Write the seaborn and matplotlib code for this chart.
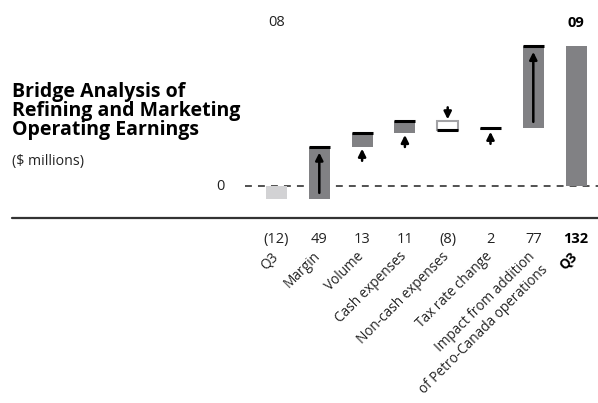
import matplotlib
matplotlib.use("Agg")
import matplotlib.pyplot as plt
from matplotlib.lines import Line2D
import numpy as np
import pandas as pd
import seaborn as sns

# ---- data -------------------------------------------------------------
steps = ["Q3 08", "Margin", "Volume", "Cash expenses", "Non-cash expenses",
         "Tax rate change", "Petro-Canada", "Q3 09"]
tick_labels = ["Q3", "Margin", "Volume", "Cash expenses", "Non-cash expenses",
               "Tax rate change", "Impact from addition\nof Petro-Canada operations", "Q3"]
changes = [-12, 49, 13, 11, -8, 2, 77]
total_09 = 132
year_labels = ["08", "09"]
title_lines = ["Bridge Analysis of", "Refining and Marketing", "Operating Earnings"]

# ---- waterfall geometry -------------------------------------------------
ends = list(np.cumsum(changes))
starts = [0] + ends[:-1]
bottoms = [min(s, e) for s, e in zip(starts, ends)] + [0]
heights = [abs(c) for c in changes] + [total_09]
values = changes + [total_09]

df = pd.DataFrame({"step": steps, "height": heights, "bottom": bottoms})

sns.set_style("white")
plt.rcParams["font.family"] = ["Open Sans", "DejaVu Sans"]

W, H = 598, 403
fig = plt.figure(figsize=(W / 100, H / 100), dpi=100)
ax = fig.add_axes([0, 0, 1, 1])

DARK = "#808085"
LIGHT = "#d2d2d4"
EDGE = "#a3a3a6"
TXT = "#222222"

sns.barplot(data=df, x="step", y="height", bottom=df["bottom"].values,
            width=0.49, color=DARK, errorbar=None, ax=ax, zorder=2,
            linewidth=0)

# pixel layout: zero line at y=186 px, 1.06 px per $ million, bars 42.8 px apart
px_per_unit = 1.06
zero_px = 186
x0_px, dx_px = 276.5, 42.8
ax.set_ylim(-(H - zero_px) / px_per_unit, zero_px / px_per_unit)
ax.set_xlim(-x0_px / dx_px, (W - x0_px) / dx_px)
ax.axis("off")

# recolour the bars: light for the opening quarter, open box for decreases
for i, patch in enumerate(ax.patches):
    if i == 0:
        patch.set_facecolor(LIGHT)
    elif i < len(changes) and values[i] < 0:
        patch.set_facecolor("white")
        patch.set_edgecolor(EDGE)
        patch.set_linewidth(1.5)

# dashed zero line behind the bars
ax.axhline(0, xmin=245 / W, xmax=1, color=TXT, lw=1.1,
           dashes=(4.5, 4), zorder=1)

half = 0.49 / 2
gap = 2.0 / px_per_unit
arrow_len = 12 / px_per_unit
inset = 5.5
for i in range(1, len(changes)):
    s, e = starts[i], ends[i]
    # black line marks the new running total
    ax.hlines(e, i - half, i + half, color="black", lw=2.2, zorder=3)
    sign = 1 if e > s else -1
    if abs(e - s) > 30:
        tail, tip = s + sign * inset, e - sign * inset
    else:
        tip = s - sign * gap
        tail = tip - sign * arrow_len
    ax.annotate("", xy=(i, tip), xytext=(i, tail),
                arrowprops=dict(arrowstyle="-|>", color="black", lw=1.8,
                                mutation_scale=11, shrinkA=0, shrinkB=0),
                zorder=4)

def fy(py):
    return 1 - py / H

# axis baseline
fig.add_artist(Line2D([12 / W, 1], [fy(218), fy(218)], color="#333333", lw=1.6))

# zero label
fig.text(225 / W, fy(186), "0", ha="right", va="center", fontsize=10.5, color=TXT)

# year labels over the opening and closing bars
trans = ax.get_xaxis_transform()
ax.text(0, fy(23), year_labels[0], transform=trans, ha="center", va="center",
        fontsize=10.5, color=TXT)
ax.text(len(steps) - 1, fy(23), year_labels[1], transform=trans, ha="center",
        va="center", fontsize=10.5, fontweight="bold", color="black")

# value row and rotated category labels
for i, v in enumerate(values):
    txt = f"({abs(v)})" if v < 0 else f"{v}"
    bold = i == len(values) - 1
    ax.text(i, fy(239), txt, transform=trans, ha="center", va="center",
            fontsize=10.5, fontweight="bold" if bold else "normal",
            color="black" if bold else TXT)
    ax.text(i - 0.14, fy(249), tick_labels[i], transform=trans, ha="right",
            va="top", rotation=45, rotation_mode="anchor", fontsize=9.8,
            fontweight="bold" if bold else "normal",
            color="black" if bold else TXT, linespacing=1.3)

# title block
for line, base in zip(title_lines, [96.5, 116, 135.5]):
    fig.text(12 / W, fy(base), line, ha="left", va="baseline", fontsize=14,
             fontweight="bold", color="black")
fig.text(12 / W, fy(162), "($ millions)", ha="left", va="center", fontsize=10.2,
         color=TXT)

fig.savefig("out.png", dpi=100)
